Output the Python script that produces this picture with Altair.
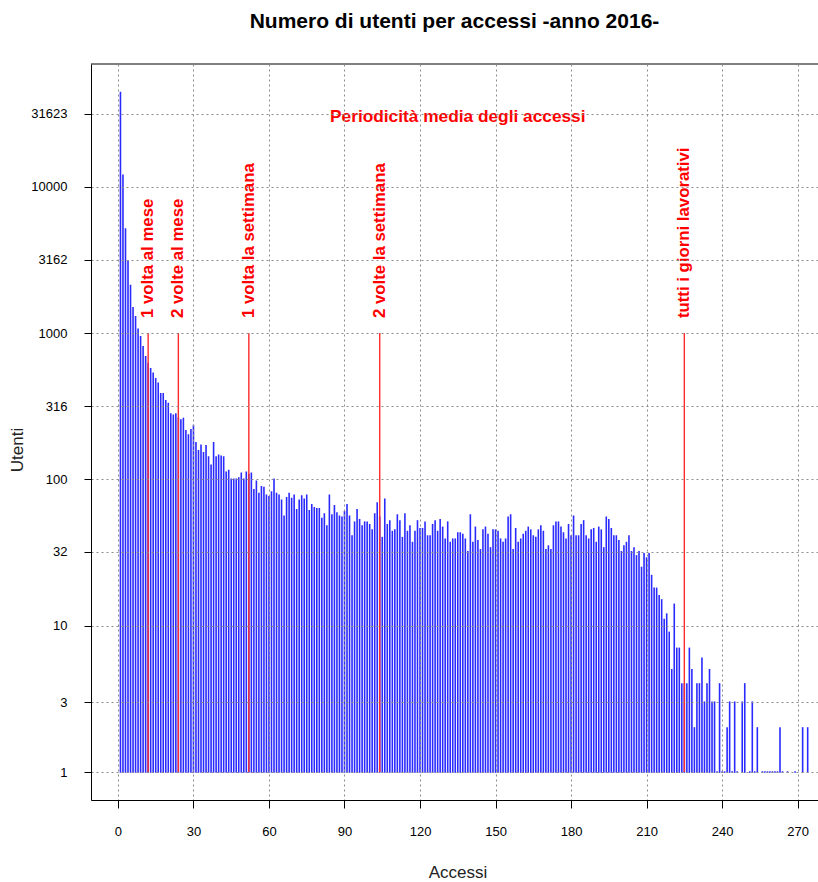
import altair as alt
import pandas as pd

# ---------------- data ----------------
utenti = [
    44000, 12000, 5150, 3110, 2110, 1490, 1294, 1062, 945, 807,
    690, 620, 571, 531, 488, 454, 384, 384, 345, 330,
    280, 274, 280, 262, 255, 261, 215, 201, 218, 233,
    178, 157, 171, 152, 170, 142, 125, 178, 142, 146,
    144, 142, 112, 115, 100, 100, 100, 102, 110, 100,
    112, 108, 110, 85, 97, 80, 89, 88, 78, 76,
    82, 100, 80, 78, 72, 56, 75, 80, 74, 78,
    62, 72, 77, 73, 78, 61, 67, 64, 63, 63,
    54, 58, 48, 78, 57, 66, 59, 56, 55, 60,
    67, 56, 41, 51, 62, 53, 48, 51, 51, 49,
    45, 58, 69, 55, 40, 73, 49, 52, 44, 45,
    57, 52, 40, 58, 44, 48, 37, 44, 52, 46,
    46, 51, 41, 41, 49, 52, 44, 53, 47, 39,
    51, 37, 39, 39, 43, 43, 42, 39, 32, 57,
    37, 47, 38, 33, 45, 47, 42, 34, 45, 45,
    44, 39, 37, 39, 55, 57, 33, 46, 37, 39,
    42, 44, 47, 45, 41, 40, 45, 48, 44, 33,
    35, 33, 48, 51, 51, 47, 43, 39, 49, 41,
    56, 41, 41, 49, 52, 41, 39, 45, 46, 37,
    47, 45, 34, 55, 53, 46, 41, 41, 38, 32,
    35, 37, 41, 32, 34, 30, 32, 25, 31, 29,
    31, 22, 18, 18, 16, 15, 11, 12, 9, 5,
    14, 7, 7, 4, 4, 4, 7, 5, 2, 4,
    4, 6, 3, 4, 5, 3, 3, 1, 4, 1,
    1, 2, 3, 1, 3, 1, 0, 3, 4, 0,
    1, 3, 1, 2, 0, 1, 1, 1, 1, 1,
    1, 1, 2, 1, 0, 1, 0, 0, 1, 0,
    0, 2, 0, 2,
]
accessi = list(range(1, len(utenti) + 1))

y_ticks = [1, 3, 10, 32, 100, 316, 1000, 3162, 10000, 31623]
x_ticks = [0, 30, 60, 90, 120, 150, 180, 210, 240, 270]

freq_x = [12, 24, 52, 104, 225]
freq_top = [1000, 1000, 1000, 1000, 1000]
freq_labels = ["1 volta al mese", "2 volte al mese", "1 volta la settimana",
               "2 volte la settimana", "tutti i giorni lavorativi"]

note_text = ["Periodicità media degli accessi"]
note_x = [135]
note_y = [30000]

title_text = ["Numero di utenti per accessi -anno 2016-"]
x_title = ["Accessi"]
y_title = ["Utenti"]

# ---------------- layout ----------------
W, H = 727, 736
X_DOMAIN = [-10.7, 278.1]
Y_DOMAIN = [0.644, 69060]
FONT = "Liberation Sans"

df = pd.DataFrame({"accessi": accessi, "utenti": utenti})
df = df[df["utenti"] > 0].copy()
df["base"] = 1

fdf = pd.DataFrame({"x": freq_x, "top": freq_top, "label": freq_labels})
fdf["base"] = 1

xs = alt.Scale(domain=X_DOMAIN, nice=False, zero=False)
ys = alt.Scale(type="log", domain=Y_DOMAIN, nice=False)

common_axis = dict(
    grid=True, gridColor="#8c8c8c", gridDash=[2, 3], gridWidth=1,
    tickColor="#000000", domainColor="#000000", domainWidth=1,
    labelFont=FONT, labelFontSize=13, labelColor="#000000",
    title=None, zindex=1,
)
x_axis = alt.Axis(values=x_ticks, tickSize=8, labelPadding=17,
                  labelAngle=0, **common_axis)
y_axis = alt.Axis(values=y_ticks, format="d", tickSize=7, labelPadding=17,
                  labelAlign="right", labelBaseline="middle", **common_axis)

bars = alt.Chart(df).mark_rule(
    color="#2a2aff", strokeWidth=1.6, strokeCap="square", clip=True
).encode(
    x=alt.X("accessi:Q", scale=xs, axis=x_axis),
    y=alt.Y("base:Q", scale=ys, axis=y_axis),
    y2="utenti:Q",
)

red_lines = alt.Chart(fdf).mark_rule(color="#ff2a2a", strokeWidth=1.4).encode(
    x=alt.X("x:Q", scale=xs),
    y=alt.Y("base:Q", scale=ys),
    y2="top:Q",
)

red_labels = alt.Chart(fdf).mark_text(
    angle=270, align="left", baseline="middle", dx=15,
    font=FONT, fontSize=16.8, fontWeight="bold", color="#ff0000",
).encode(
    x=alt.X("x:Q", scale=xs),
    y=alt.Y("top:Q", scale=ys),
    text="label:N",
)

note = alt.Chart(pd.DataFrame({"t": note_text, "x": note_x, "y": note_y})).mark_text(
    align="center", baseline="middle",
    font=FONT, fontSize=17.3, fontWeight="bold", color="#ff0000",
).encode(
    x=alt.X("x:Q", scale=xs),
    y=alt.Y("y:Q", scale=ys),
    text="t:N",
)

title = alt.Chart(pd.DataFrame({"t": title_text})).mark_text(
    align="center", baseline="middle",
    font=FONT, fontSize=21, fontWeight="bold", color="#000000",
).encode(x=alt.value(W / 2), y=alt.value(-42), text="t:N")

xt = alt.Chart(pd.DataFrame({"t": x_title})).mark_text(
    align="center", baseline="middle",
    font=FONT, fontSize=17, color="#222222",
).encode(x=alt.value(367), y=alt.value(809), text="t:N")

yt = alt.Chart(pd.DataFrame({"t": y_title})).mark_text(
    align="center", baseline="middle", angle=270,
    font=FONT, fontSize=17, color="#222222",
).encode(x=alt.value(-73), y=alt.value(386), text="t:N")

top_border = alt.Chart(pd.DataFrame({"a": [0]})).mark_rule(
    color="#000000", strokeWidth=1
).encode(x=alt.value(0), x2=alt.value(W), y=alt.value(0))

chart = alt.layer(
    bars, red_lines, red_labels, note, title, xt, yt, top_border
).properties(
    width=W, height=H,
    autosize=alt.AutoSizeParams(type="none"),
    padding={"left": 91, "top": 64, "right": 0, "bottom": 82},
    background="#ffffff",
).configure_view(stroke=None)

chart.save("out.html", embed_options={"renderer": "svg", "actions": False})
